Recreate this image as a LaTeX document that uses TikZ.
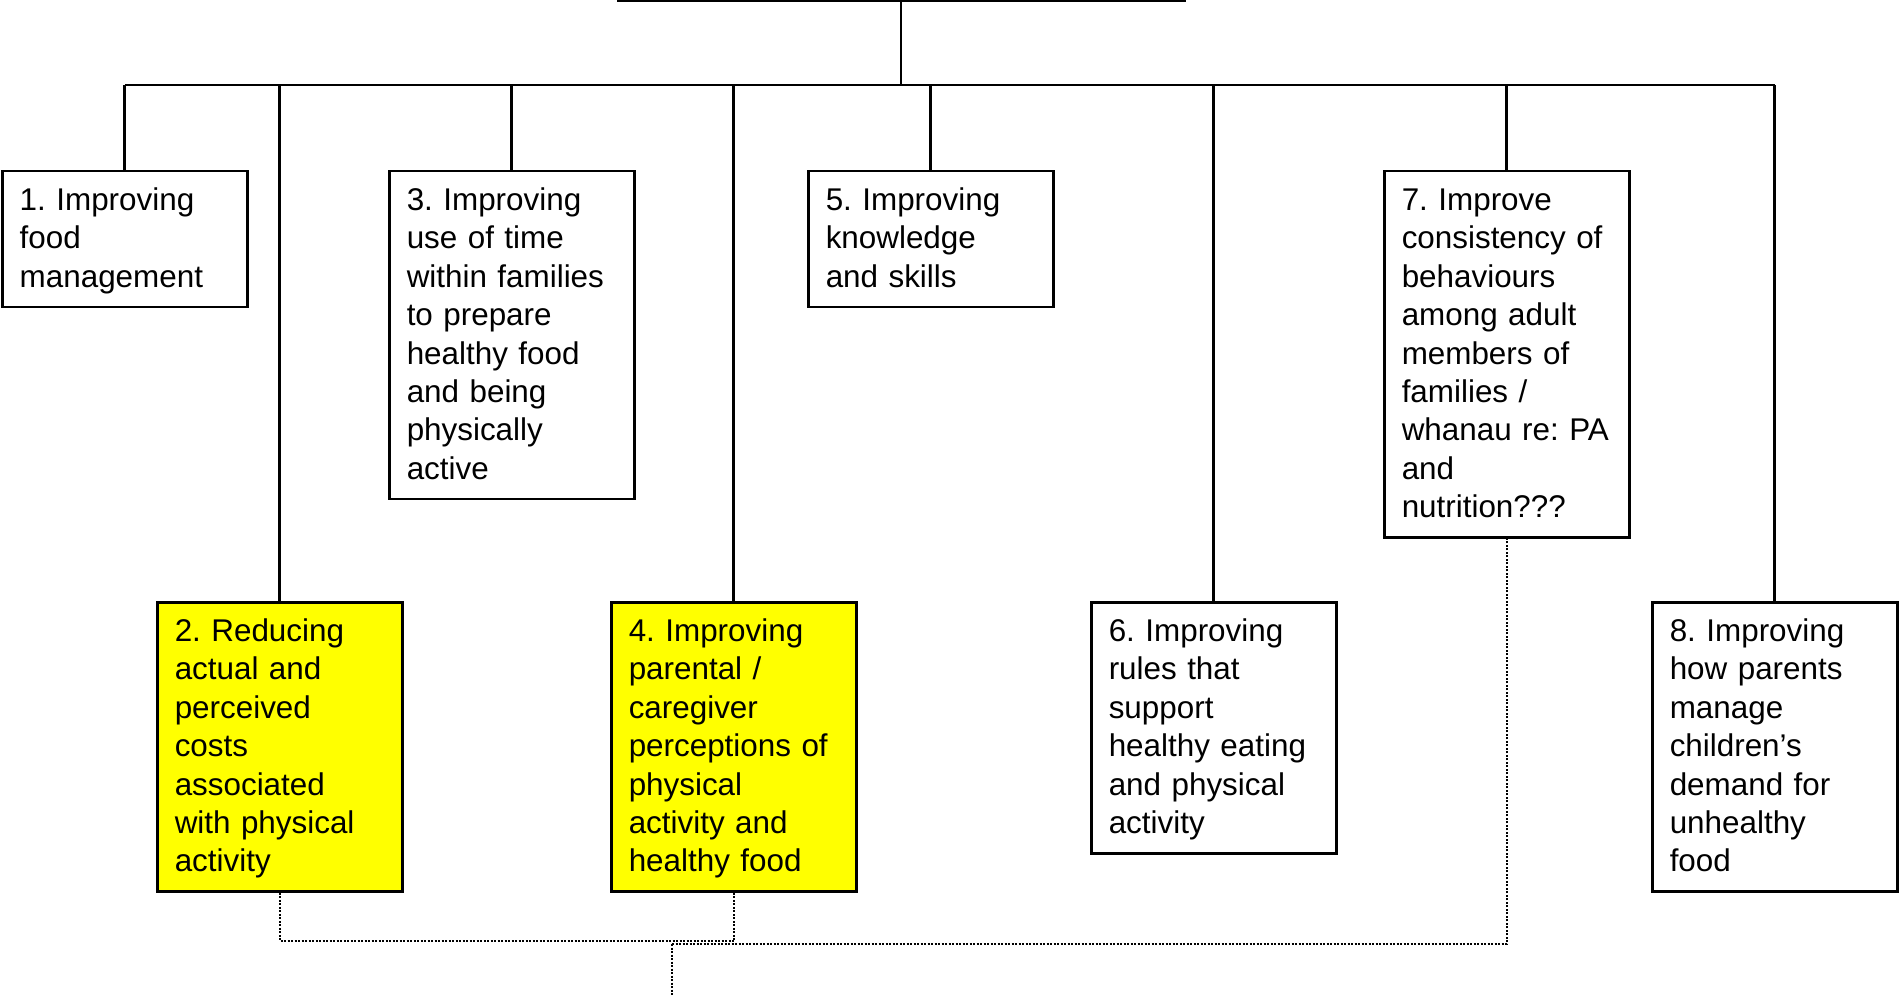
\documentclass[tikz,border=0pt]{standalone}
\usepackage{fontspec}
\setmainfont{Liberation Sans}
\definecolor{hlyellow}{RGB}{255,255,0}
\newcommand\tstr{\rule{0pt}{28.9pt}}
\newcommand\bstr{\rule[-9.5pt]{0pt}{9.5pt}}
\begin{document}
\begin{tikzpicture}[x=1pt,y=-1pt,
  box/.style={draw=black, line width=2.5pt, fill=white, anchor=north west, text width=210pt, align=left, inner xsep=17.5pt, inner ysep=10.3pt, font=\fontsize{31.4}{38.4}\selectfont\frenchspacing},
  hl/.style={box, fill=hlyellow},
  link/.style={line width=2.8pt},
  dot/.style={line width=2pt, dash pattern=on 2pt off 1.5pt}]
\useasboundingbox (0,0) rectangle (1901,995);

% top row
\node[box] (b1) at (1,170) {\tstr 1. Improving\\ food\\ management\bstr};
\node[box] (b3) at (388,170) {\tstr 3. Improving\\ use of time\\ within families\\ to prepare\\ healthy food\\ and being\\ physically\\ active\bstr};
\node[box] (b5) at (807,170) {\tstr 5. Improving\\ knowledge\\ and skills\bstr};
\node[box] (b7) at (1383,170) {\tstr 7. Improve\\ consistency of\\ behaviours\\ among adult\\ members of\\ families /\\ whanau re: PA\\ and\\ nutrition???\bstr};
% bottom row
\node[hl] (b2) at (156,601) {\tstr 2. Reducing\\ actual and\\ perceived\\ costs\\ associated\\ with physical\\ activity\bstr};
\node[hl] (b4) at (610,601) {\tstr 4. Improving\\ parental /\\ caregiver\\ perceptions of\\ physical\\ activity and\\ healthy food\bstr};
\node[box] (b6) at (1090,601) {\tstr 6. Improving\\ rules that\\ support\\ healthy eating\\ and physical\\ activity\bstr};
\node[box] (b8) at (1651,601) {\tstr 8. Improving\\ how parents\\ manage\\ children’s\\ demand for\\ unhealthy\\ food\bstr};

% top connectors
\coordinate (tl) at (617,1);
\coordinate (tr) at (1186,1);
\coordinate (top) at (901,1);
\coordinate (bus) at (901,85);
\draw[link] (tl) -- (tr);
\draw[link] (top) -- (bus);
\draw[link] (b1.north |- bus) -- (b8.north |- bus);
\foreach \b in {b1,b2,b3,b4,b5,b6,b7,b8}
  \draw[link] (\b.north) -- (\b.north |- bus);

% dotted connectors
\coordinate (dl) at (0,941);
\coordinate (jn) at (672,944);
\coordinate (out) at (672,998);
\draw[dot] (b2.south) -- (b2.south |- dl) -- (b4.south |- dl);
\draw[dot] (b4.south) -- (b4.south |- dl);
\draw[dot] (jn) -- (b7.south |- jn) -- (b7.south);
\draw[dot] (jn) -- (out);
\end{tikzpicture}
\end{document}
